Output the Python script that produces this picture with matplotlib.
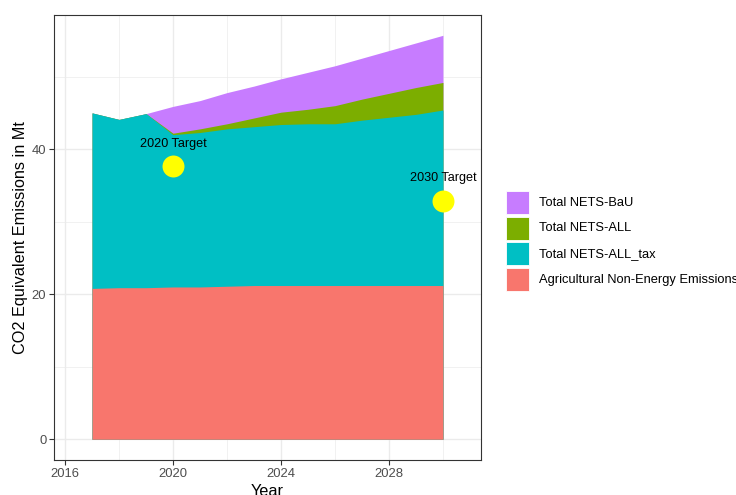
import numpy as np
import matplotlib
matplotlib.use("Agg")
import matplotlib.pyplot as plt
from matplotlib.patches import Rectangle
from matplotlib.ticker import MultipleLocator

plt.rcParams['font.family'] = ['Liberation Sans', 'DejaVu Sans']

# data (Mt CO2 equivalent)
years = [2017, 2018, 2019, 2020, 2021, 2022, 2023, 2024, 2025, 2026, 2027, 2028, 2029, 2030]
agri = [20.8, 20.9, 20.9, 21.0, 21.0, 21.1, 21.2, 21.2, 21.2, 21.2, 21.2, 21.2, 21.2, 21.2]
nets_all_tax = [45.0, 44.1, 44.9, 42.0, 42.3, 42.8, 43.1, 43.4, 43.5, 43.5, 44.0, 44.4, 44.8, 45.4]
nets_all = [45.0, 44.1, 44.9, 42.2, 42.8, 43.5, 44.3, 45.1, 45.5, 46.0, 46.9, 47.7, 48.5, 49.2]
nets_bau = [45.0, 44.1, 44.9, 45.9, 46.7, 47.8, 48.7, 49.7, 50.6, 51.5, 52.55, 53.6, 54.65, 55.7]

target_years = [2020, 2030]
target_values = [37.7, 32.9]
target_labels = ["2020 Target", "2030 Target"]

series_names = ["Total NETS-BaU", "Total NETS-ALL", "Total NETS-ALL_tax",
                "Agricultural Non-Energy Emissions"]
series_vals = [nets_bau, nets_all, nets_all_tax, agri]
series_cols = ["#C77CFF", "#7CAE00", "#00BFC4", "#F8766D"]

W, H = 736, 495
fig = plt.figure(figsize=(W/100, H/100), dpi=100)
ax = fig.add_axes([54/W, 35/H, 427/W, 445/H])

for vals, col in zip(series_vals, series_cols):
    ax.fill_between(years, 0, vals, color=col, lw=0, zorder=2)

ax.scatter(target_years, target_values, s=250, color="#FFFF00", lw=0, zorder=4)
for x, y, lab in zip(target_years, target_values, target_labels):
    ax.annotate(lab, (x, y), xytext=(0, 16), textcoords="offset points",
                ha="center", va="center", size=9.1, color="black", zorder=5)

ax.set_xlim(2015.59, 2031.41)
ax.set_ylim(-2.86, 58.5)
ax.xaxis.set_major_locator(MultipleLocator(4))
ax.xaxis.set_minor_locator(MultipleLocator(2))
ax.yaxis.set_major_locator(MultipleLocator(20))
ax.yaxis.set_minor_locator(MultipleLocator(10))
ax.grid(which="major", color="#EBEBEB", lw=1.0, zorder=0)
ax.grid(which="minor", color="#EBEBEB", lw=0.5, zorder=0)
ax.set_axisbelow(True)
ax.tick_params(which="major", length=3.5, width=0.8, color="#333333",
               labelcolor="#4D4D4D", labelsize=9.4, pad=2)
ax.tick_params(which="minor", length=0)
for sp in ax.spines.values():
    sp.set_color("#333333")
    sp.set_linewidth(0.8)

ax.set_xlabel("Year", size=11.7, labelpad=3)
ax.set_ylabel("CO2 Equivalent Emissions in Mt", size=11.7, labelpad=3)

# legend drawn by hand, ggplot style keys
key_x, key_w, key_h, pitch, top = 506, 23, 23, 25.7, 191
for i, (name, col) in enumerate(zip(series_names, series_cols)):
    y0 = top + i * pitch
    fig.add_artist(Rectangle((key_x/W, 1 - (y0 + key_h)/H), key_w/W, key_h/H,
                             transform=fig.transFigure, facecolor=col,
                             edgecolor="white", lw=0.6))
    fig.text(539/W, 1 - (y0 + key_h/2)/H, name, size=9.3, va="center", ha="left")

fig.savefig("out.png", dpi=100)
